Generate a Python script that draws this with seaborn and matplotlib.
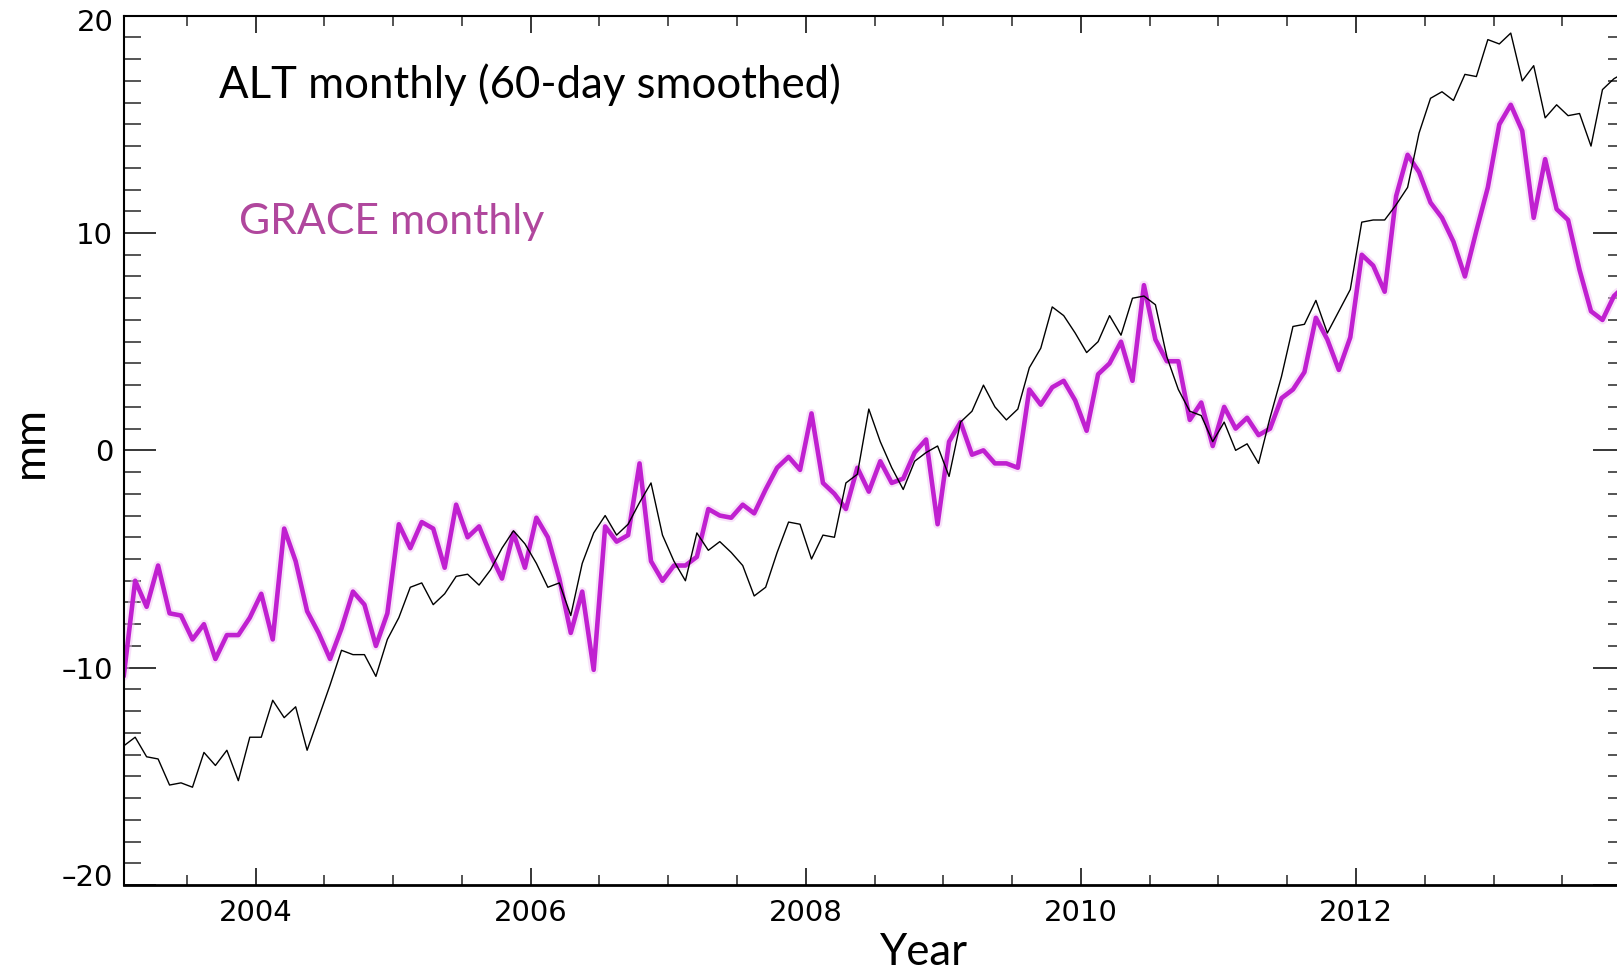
import numpy as np
import matplotlib
matplotlib.use("Agg")
import matplotlib.pyplot as plt
import matplotlib.transforms as mtransforms
import seaborn as sns
from matplotlib.ticker import FixedLocator, MultipleLocator

# Monthly series, Jan 2003 .. Dec 2013 (mid-month decimal years)
first_year = 2003
n_months = 132
years = first_year + (np.arange(n_months) + 0.5) / 12.0

# GRACE monthly (mm)
grace = [
    -10.4, -6.0, -7.2, -5.3, -7.5, -7.6, -8.7, -8.0, -9.6, -8.5, -8.5, -7.7,   # 2003
    -6.6, -8.7, -3.6, -5.1, -7.4, -8.4, -9.6, -8.2, -6.5, -7.1, -9.0, -7.5,   # 2004
    -3.4, -4.5, -3.3, -3.6, -5.4, -2.5, -4.0, -3.5, -4.8, -5.9, -3.8, -5.4,   # 2005
    -3.1, -4.0, -5.9, -8.4, -6.5, -10.1, -3.5, -4.2, -3.9, -0.6, -5.1, -6.0,  # 2006
    -5.3, -5.3, -4.9, -2.7, -3.0, -3.1, -2.5, -2.9, -1.8, -0.8, -0.3, -0.9,   # 2007
    1.7, -1.5, -2.0, -2.7, -0.8, -1.9, -0.5, -1.5, -1.3, -0.1, 0.5, -3.4,     # 2008
    0.4, 1.3, -0.2, 0.0, -0.6, -0.6, -0.8, 2.8, 2.1, 2.9, 3.2, 2.3,           # 2009
    0.9, 3.5, 4.0, 5.0, 3.2, 7.6, 5.1, 4.1, 4.1, 1.4, 2.2, 0.2,               # 2010
    2.0, 1.0, 1.5, 0.7, 1.0, 2.4, 2.8, 3.6, 6.1, 5.1, 3.7, 5.2,               # 2011
    9.0, 8.5, 7.3, 11.7, 13.6, 12.8, 11.4, 10.7, 9.6, 8.0, 10.1, 12.1,        # 2012
    15.0, 15.9, 14.7, 10.7, 13.4, 11.1, 10.6, 8.3, 6.4, 6.0, 7.1, 7.6,        # 2013
]

# Altimetry monthly, 60-day smoothed (mm)
alt = [
    -13.6, -13.2, -14.1, -14.2, -15.4, -15.3, -15.5, -13.9, -14.5, -13.8, -15.2, -13.2,  # 2003
    -13.2, -11.5, -12.3, -11.8, -13.8, -12.3, -10.8, -9.2, -9.4, -9.4, -10.4, -8.7,      # 2004
    -7.7, -6.3, -6.1, -7.1, -6.6, -5.8, -5.7, -6.2, -5.5, -4.5, -3.7, -4.3,              # 2005
    -5.2, -6.3, -6.1, -7.6, -5.2, -3.8, -3.0, -3.9, -3.4, -2.4, -1.5, -3.9,              # 2006
    -5.1, -6.0, -3.8, -4.6, -4.2, -4.7, -5.3, -6.7, -6.3, -4.7, -3.3, -3.4,              # 2007
    -5.0, -3.9, -4.0, -1.5, -1.1, 1.9, 0.4, -0.8, -1.8, -0.5, -0.1, 0.2,                 # 2008
    -1.2, 1.3, 1.8, 3.0, 2.0, 1.4, 1.9, 3.8, 4.7, 6.6, 6.2, 5.4,                         # 2009
    4.5, 5.0, 6.2, 5.3, 7.0, 7.1, 6.7, 4.3, 2.8, 1.8, 1.6, 0.4,                          # 2010
    1.3, 0.0, 0.3, -0.6, 1.5, 3.4, 5.7, 5.8, 6.9, 5.4, 6.4, 7.4,                         # 2011
    10.5, 10.6, 10.6, 11.3, 12.1, 14.6, 16.2, 16.5, 16.1, 17.3, 17.2, 18.9,              # 2012
    18.7, 19.2, 17.0, 17.7, 15.3, 15.9, 15.4, 15.5, 14.0, 16.6, 17.1, 17.4,              # 2013
]

x_ticks = [2004, 2006, 2008, 2010, 2012]
x_tick_labels = ["2004", "2006", "2008", "2010", "2012"]
y_ticks = [-20, -10, 0, 10, 20]
y_tick_labels = ["\u201320", "\u201310", "0", "10", "20"]

sns.set_style("white")
plt.rcParams["font.family"] = ["DejaVu Sans"]

W, H = 1617, 972
fig = plt.figure(figsize=(W / 100, H / 100), dpi=100)
ax = fig.add_axes([123.7 / W, 87 / H, 1501.7 / W, 869.3 / H])

# soft halo under the GRACE curve, then the curve itself
sns.lineplot(x=years, y=grace, ax=ax, color="#F2C6F5", linewidth=6.5, alpha=0.5,
             estimator=None, sort=False, zorder=1)
sns.lineplot(x=years, y=grace, ax=ax, color="#C020D0", linewidth=3.3,
             estimator=None, sort=False, zorder=2)
sns.lineplot(x=years, y=alt, ax=ax, color="black", linewidth=1.0,
             estimator=None, sort=False, zorder=3)

ax.set_xlim(years[0], years[-1])
ax.set_ylim(-20, 20)

ax.xaxis.set_major_locator(FixedLocator(x_ticks))
ax.set_xticklabels(x_tick_labels)
ax.xaxis.set_minor_locator(MultipleLocator(0.5))
ax.yaxis.set_major_locator(FixedLocator(y_ticks))
ax.set_yticklabels(y_tick_labels)
ax.yaxis.set_minor_locator(MultipleLocator(1))

ax.tick_params(axis="x", which="major", direction="in", length=12.5, width=1.1,
               top=True, bottom=True, labelsize=21, pad=10.0, colors="black")
ax.tick_params(axis="x", which="minor", direction="in", length=7, width=1.1,
               top=True, bottom=True)
ax.tick_params(axis="y", which="major", direction="in", length=23, width=1.1,
               left=True, right=True, labelsize=21, pad=7.5, colors="black")
ax.tick_params(axis="y", which="minor", direction="in", length=12, width=1.1,
               left=True, right=True)

# nudge the end labels of the y axis inward
ylabels = ax.get_yticklabels()
ylabels[0].set_transform(ylabels[0].get_transform() +
                         mtransforms.ScaledTranslation(0, 10 / 100, fig.dpi_scale_trans))
ylabels[-1].set_transform(ylabels[-1].get_transform() +
                          mtransforms.ScaledTranslation(0, -4 / 100, fig.dpi_scale_trans))

for sp in ax.spines.values():
    sp.set_linewidth(1.5)
    sp.set_color("black")
ax.spines["bottom"].set_linewidth(2.0)

ax.set_xlabel("")
ax.set_ylabel("")

label_font = dict(family=["Lato", "DejaVu Sans"], size=31.5)
fig.text(219 / W, 1 - 97.7 / H, "ALT monthly (60-day smoothed)", color="black",
         ha="left", va="baseline", **label_font)
fig.text(239 / W, 1 - 234.3 / H, "GRACE monthly", color="#B0479D",
         ha="left", va="baseline", family=["Lato", "DejaVu Sans"], size=30.8)
fig.text(924 / W, 1 - 965 / H, "Year", color="black",
         ha="center", va="baseline", **label_font)
fig.text(30 / W, 1 - 442 / H, "mm", color="black", rotation=90,
         ha="center", va="center", **label_font)

fig.savefig("out.png", dpi=100, facecolor="white")
